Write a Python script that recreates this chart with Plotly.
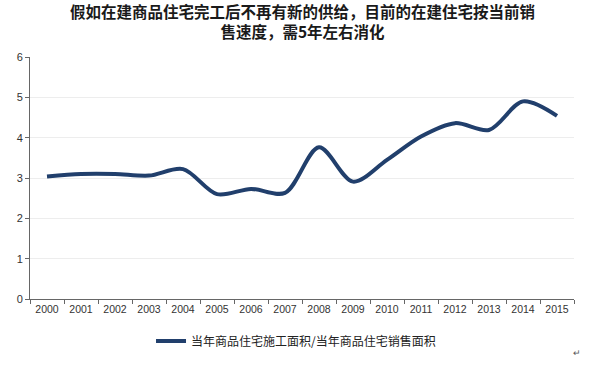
import plotly.graph_objects as go

years = [str(y) for y in range(2000, 2016)]
ratio = [3.04, 3.10, 3.10, 3.06, 3.22, 2.60, 2.73, 2.63, 3.76, 2.91, 3.45, 4.03, 4.36, 4.19, 4.90, 4.54]
series_name = "当年商品住宅施工面积/当年商品住宅销售面积"
title_text = "假如在建商品住宅完工后不再有新的供给，目前的在建住宅按当前销<br>售速度，需5年左右消化"
y_ticks = [0, 1, 2, 3, 4, 5, 6]

fig = go.Figure()
fig.add_trace(go.Scatter(
    x=years, y=ratio, mode="lines", name=series_name,
    line=dict(color="#213F6C", width=4, shape="spline", smoothing=0.9),
))

fig.update_layout(
    width=594, height=373,
    margin=dict(l=30, r=20, t=57, b=74, autoexpand=False),
    paper_bgcolor="white", plot_bgcolor="white",
    showlegend=True,
    legend=dict(orientation="h", x=0.489, xanchor="center", y=-0.174, yanchor="middle",
                font=dict(family="Noto Sans CJK SC", size=12, color="#222222"),
                itemwidth=30, bgcolor="rgba(0,0,0,0)"),
    font=dict(family="Noto Sans CJK SC"),
)

fig.add_annotation(text="<b>" + title_text + "</b>", xref="paper", yref="paper",
                   x=0.5, y=1.147, xanchor="center", yanchor="middle",
                   showarrow=False,
                   font=dict(family="Noto Sans CJK SC", size=15.5, color="#1a1a1a"))

fig.update_xaxes(
    type="category", range=[-0.5, 15.5], tickson="boundaries", ticks="outside", ticklen=4,
    tickcolor="#666666", showline=True, linecolor="#666666", linewidth=1,
    showgrid=False, tickfont=dict(family="Liberation Sans", size=10.5, color="#333333"),
    fixedrange=True, automargin=False,
)
fig.update_yaxes(
    range=[0, 6], tickvals=y_ticks, ticks="outside", ticklen=4, tickcolor="#666666",
    showline=True, linecolor="#666666", linewidth=1,
    showgrid=True, gridcolor="#EDEDED", gridwidth=1, zeroline=False,
    tickfont=dict(family="Liberation Sans", size=11, color="#333333"),
    fixedrange=True, automargin=False,
)

fig.add_annotation(text="↵", xref="paper", yref="paper", x=1.0055, y=-0.223,
                   xanchor="center", yanchor="middle", showarrow=False,
                   font=dict(size=9, color="#555555"))

fig.write_html("out.html", config={"displayModeBar": False, "staticPlot": True},
               post_script="document.body.style.margin='0';")
